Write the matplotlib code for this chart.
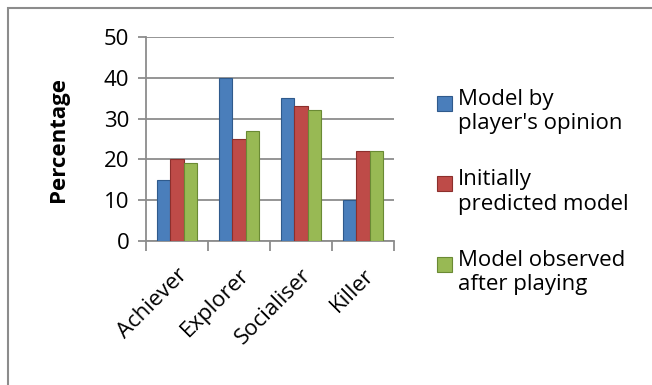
import matplotlib.pyplot as plt
import numpy as np
from matplotlib.patches import Rectangle

categories = ['Achiever', 'Explorer', 'Socialiser', 'Killer']
player_opinion = [15, 40, 35, 10]
initially_predicted = [20, 25, 33, 22]
observed_after = [19, 27, 32, 22]
series_labels = ["Model by\nplayer's opinion", 'Initially\npredicted model', 'Model observed\nafter playing']
yticks = [0, 10, 20, 30, 40, 50]

colors = ['#4A7EBB', '#BE4B48', '#98B954']
edges = ['#2F5A8C', '#8C2F2C', '#6A8A34']

plt.rcParams['font.family'] = ['Open Sans', 'DejaVu Sans']

fig = plt.figure(figsize=(6.52, 3.85), dpi=100)
ax = fig.add_axes([146 / 652, 1 - 241 / 385, 248 / 652, 204 / 385])

x = np.arange(len(categories))
w = 0.215
for i, vals in enumerate([player_opinion, initially_predicted, observed_after]):
    ax.bar(x + (i - 1) * w, vals, width=w, color=colors[i], edgecolor=edges[i],
           linewidth=0.8, zorder=3)

ax.set_xlim(-0.5, len(categories) - 0.5)
ax.set_ylim(0, 50)
ax.set_yticks(yticks)
ax.set_yticklabels([str(t) for t in yticks], fontsize=16)
ax.yaxis.grid(True, color='#8C8C8C', linewidth=1.3, zorder=0)
ax.set_axisbelow(True)

ax.set_xticks(x)
ax.set_xticklabels(categories, fontsize=16, rotation=45, ha='right', va='top',
                   rotation_mode='anchor')
ax.set_xticks(np.arange(len(categories) + 1) - 0.5, minor=True)
ax.tick_params(axis='x', which='major', length=0, pad=17)
ax.tick_params(axis='x', which='minor', length=7, width=1.3, color='#8C8C8C')
ax.tick_params(axis='y', length=6, width=1.3, color='#8C8C8C', pad=6)

for s in ['top', 'right']:
    ax.spines[s].set_visible(False)
for s in ['left', 'bottom']:
    ax.spines[s].set_color('#8C8C8C')
    ax.spines[s].set_linewidth(1.3)

ax.set_ylabel('Percentage', fontsize=16, fontweight='bold', labelpad=25)

# legend drawn by hand so the square sits on the first line of each entry
for i, lab in enumerate(series_labels):
    yc = 1 - (103 + i * 80.5) / 385
    fig.patches.append(Rectangle((437 / 652, yc - 7.5 / 385), 15 / 652, 15 / 385,
                                 transform=fig.transFigure, facecolor=colors[i],
                                 edgecolor=edges[i], linewidth=0.8))
    fig.text(458 / 652, yc + 14 / 385, lab, fontsize=16, va='top', ha='left',
             linespacing=1.2)

fig.patches.append(Rectangle((8 / 652, -0.05), 1.1, 1 - 8 / 385 + 0.05,
                             transform=fig.transFigure, fill=False,
                             edgecolor='#8C8C8C', linewidth=1.5))

fig.savefig('out.png', dpi=100)
